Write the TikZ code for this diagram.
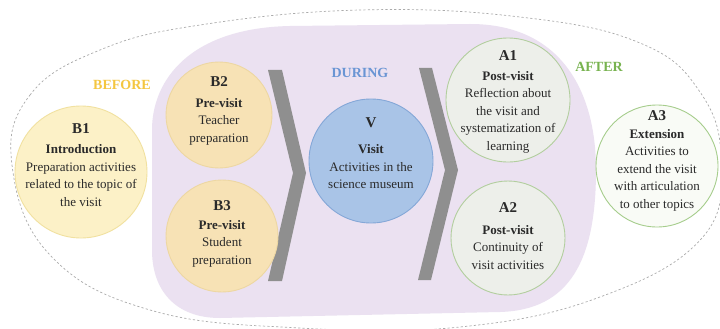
\documentclass[tikz,border=0pt]{standalone}
\usepackage{fontspec}
\setmainfont{Liberation Serif}
\definecolor{purpleregion}{HTML}{EBE1F1}
\definecolor{dashcol}{HTML}{ABABAB}
\definecolor{chevcol}{HTML}{8F8F8F}
\definecolor{bonefill}{HTML}{FCF1C7}
\definecolor{boneline}{HTML}{F1E1A0}
\definecolor{btwofill}{HTML}{F7E2B5}
\definecolor{btwoline}{HTML}{EDD7A2}
\definecolor{vfill}{HTML}{A9C4E7}
\definecolor{vline}{HTML}{84A7D7}
\definecolor{afill}{HTML}{EDEFEA}
\definecolor{aline}{HTML}{B2CE9E}
\definecolor{athreefill}{HTML}{F9FBF6}
\definecolor{athreeline}{HTML}{A6CD8C}
\definecolor{beforecol}{HTML}{F4C640}
\definecolor{duringcol}{HTML}{6A95D4}
\definecolor{aftercol}{HTML}{78B350}
\definecolor{txtcol}{HTML}{2A2A2A}
\newcommand\hdrfont{\fontsize{15}{17.5}\selectfont\bfseries}
\begin{document}
\begin{tikzpicture}[x=1pt,y=-1pt,
  circ/.style={circle, line width=0.9pt, inner sep=0pt, minimum size=#1},
  txt/.style={align=center, inner sep=0pt, font=\fontsize{13}{17.5}\selectfont, text=txtcol},
  phase/.style={font=\fontsize{14}{16}\selectfont\bfseries, inner sep=0pt},
  chevron/.style={fill=chevcol, draw=none}]
\useasboundingbox (0,0) rectangle (720,329);
\fill[white] (0,0) rectangle (720,329);
% outer dashed region
\draw[dashcol, line width=0.7pt, dash pattern=on 2.2pt off 2.2pt]
  plot[smooth cycle, tension=0.7] coordinates {
  (12,165) (30,95) (100,50) (200,25) (360,10) (520,17) (640,43) (700,92)
  (721,160) (702,238) (600,297) (460,327) (300,328) (150,310) (50,255)};
% purple region
\fill[purpleregion] (152,130) .. controls (152,80) and (190,28) .. (290,26)
  -- (470,24) .. controls (560,24) and (596,90) .. (596,170)
  .. controls (596,260) and (570,310) .. (500,312)
  -- (220,318) .. controls (175,318) and (152,290) .. (152,250) -- cycle;
% chevrons
\fill[chevron] (268,70) -- (282,70) -- (306,173) -- (282,281) -- (268,281) -- (293,173) -- cycle;
\fill[chevron] (419,68) -- (432,68) -- (458,170) -- (431,280) -- (418,280) -- (445,170) -- cycle;
% circles
\node[circ=132pt, fill=bonefill, draw=boneline] (b1) at (81,172) {};
\node[circ=106pt, fill=btwofill, draw=btwoline] (b2) at (219,115) {};
\node[circ=112pt, fill=btwofill, draw=btwoline] (b3) at (222,236) {};
\node[circ=124pt, fill=vfill, draw=vline] (v) at (371,161) {};
\node[circ=124pt, fill=afill, draw=aline] (a1) at (508,100) {};
\node[circ=114pt, fill=afill, draw=aline] (a2) at (508,238) {};
\node[circ=122pt, fill=athreefill, draw=athreeline] (a3) at (657,166) {};
% phase labels
\node[phase, text=beforecol] (before) at (122,85) {BEFORE};
\node[phase, text=duringcol] (during) at (360,73) {DURING};
\node[phase, text=aftercol] (after) at (599,67) {AFTER};
% texts
\node[txt] (b1t) at (81,165) {{\hdrfont B1}\\[3pt]\textbf{Introduction}\\Preparation activities\\related to the topic of\\the visit};
\node[txt] (b2t) at (219,111) {{\hdrfont B2}\\[3pt]\textbf{Pre-visit}\\Teacher\\preparation};
\node[txt] (b3t) at (222,234) {{\hdrfont B3}\\[1pt]\textbf{Pre-visit}\\Student\\preparation};
\node[txt] (vt) at (371,153) {{\hdrfont V}\\[9pt]\textbf{Visit}\\Activities in the\\science museum};
\node[txt] (a1t) at (508,102) {{\hdrfont A1}\\[2pt]\textbf{Post-visit}\\Reflection about\\the visit and\\systematization of\\learning};
\node[txt] (a2t) at (508,236) {{\hdrfont A2}\\[4pt]\textbf{Post-visit}\\Continuity of\\visit activities};
\node[txt] (a3t) at (657,161) {{\hdrfont A3}\\\textbf{Extension}\\Activities to\\extend the visit\\with articulation\\to other topics};
\end{tikzpicture}
\end{document}
